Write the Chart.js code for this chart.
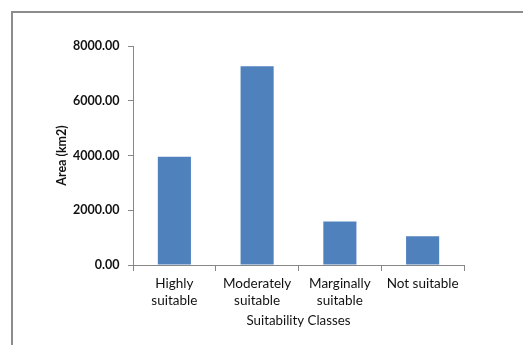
<!DOCTYPE html>
<html>
<head>
<meta charset="utf-8">
<script src="https://cdn.jsdelivr.net/npm/chart.js@4/dist/chart.umd.min.js"></script>
<style>
  html, body { margin: 0; padding: 0; background: #fff; }
  #wrap { position: relative; width: 523px; height: 345px; }
</style>
</head>
<body>
<div id="wrap"><canvas id="chart" width="523" height="345"></canvas></div>
<script>
// Area per land suitability class
const categories = [["Highly", "suitable"], ["Moderately", "suitable"], ["Marginally", "suitable"], "Not suitable"];
const areaKm2 = [3950, 7260, 1590, 1050];
const yTicks = [0, 2000, 4000, 6000, 8000];

const FONT = "Lato, 'Open Sans', 'DejaVu Sans', sans-serif";
const AXIS_GRAY = "#878787";

// Outer chart frame (left and top edges)
const framePlugin = {
  id: "frame",
  beforeDraw(chart) {
    const ctx = chart.ctx;
    ctx.save();
    ctx.strokeStyle = "#8c8c8c";
    ctx.lineWidth = 2;
    ctx.beginPath();
    ctx.moveTo(12, 345);
    ctx.lineTo(12, 12);
    ctx.lineTo(523, 12);
    ctx.stroke();
    ctx.restore();
  }
};

new Chart(document.getElementById("chart"), {
  type: "bar",
  data: {
    labels: categories,
    datasets: [{
      label: "Area (km2)",
      data: areaKm2,
      backgroundColor: "#4F81BD",
      borderWidth: 0,
      barPercentage: 0.4,
      categoryPercentage: 1.0
    }]
  },
  options: {
    responsive: false,
    animation: false,
    layout: { padding: { left: 54, right: 59, top: 46, bottom: 16 } },
    plugins: {
      legend: { display: false },
      tooltip: { enabled: false }
    },
    scales: {
      x: {
        offset: true,
        grid: { offset: true, drawOnChartArea: false, drawTicks: true, tickLength: 6, color: AXIS_GRAY },
        border: { display: true, color: AXIS_GRAY, width: 1 },
        ticks: {
          color: "#111",
          padding: 4,
          maxRotation: 0,
          autoSkip: false,
          font: { family: FONT, size: 13.5, lineHeight: 1.25 }
        },
        title: {
          display: true,
          text: "Suitability Classes",
          color: "#111",
          padding: { top: 0, bottom: 0 },
          font: { family: FONT, size: 13.3, lineHeight: 1.2 }
        },
        afterFit(scale) { scale.height = 64; }
      },
      y: {
        min: 0,
        max: 8000,
        afterBuildTicks(scale) { scale.ticks = yTicks.map(v => ({ value: v })); },
        grid: { drawOnChartArea: false, drawTicks: true, tickLength: 5, color: AXIS_GRAY },
        border: { display: true, color: AXIS_GRAY, width: 1 },
        ticks: {
          color: "#111",
          padding: 8.5,
          font: { family: FONT, size: 12.5, weight: "bold" },
          callback: v => Number(v).toFixed(2)
        },
        title: {
          display: true,
          text: "Area (km2)",
          color: "#111",
          padding: { top: 0, bottom: 0 },
          font: { family: FONT, size: 12.5, weight: "bold", lineHeight: 1.2 }
        },
        afterFit(scale) { scale.width = 79; }
      }
    }
  },
  plugins: [framePlugin]
});
</script>
</body>
</html>
